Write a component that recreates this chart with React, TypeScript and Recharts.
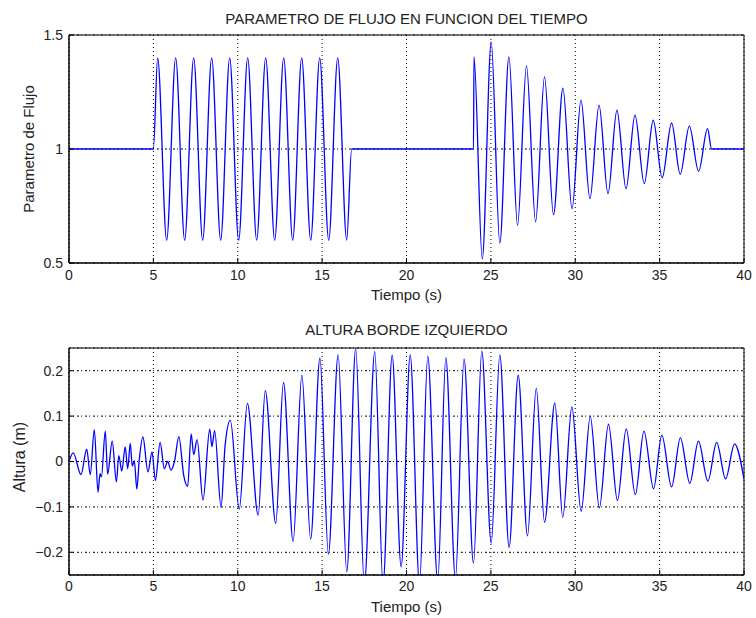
import React from 'react';
import { LineChart, Line, XAxis, YAxis, CartesianGrid, ReferenceArea } from 'recharts';

const FONT = '"Liberation Sans", Arial, Helvetica, sans-serif';
const TEXT = '#222';

// ---- Top chart: flow parameter vs time ----
const flujoT = [
  0, 5, 5.254, 5.787, 6.321, 6.854, 7.388, 7.921, 8.455, 8.988, 9.522, 10.055, 10.589, 11.122,
  11.656, 12.189, 12.723, 13.256, 13.79, 14.323, 14.857, 15.39, 15.924, 16.457, 16.75,
  23.97, 24.0, 24.49, 25.02, 25.53, 26.07, 26.58, 27.11, 27.65, 28.18, 28.71, 29.27, 29.81,
  30.34, 30.87, 31.41, 31.94, 32.47, 33.01, 33.54, 34.09, 34.62, 35.15, 35.71, 36.22, 36.76,
  37.31, 37.84, 38.08, 40,
];
const flujoV = [
  1, 1, 1.4, 0.6, 1.4, 0.6, 1.4, 0.6, 1.4, 0.6, 1.4, 0.6, 1.4, 0.6,
  1.4, 0.6, 1.4, 0.6, 1.4, 0.6, 1.4, 0.6, 1.4, 0.6, 1,
  1, 1.404, 0.518, 1.47, 0.587, 1.404, 0.665, 1.365, 0.681, 1.316, 0.712, 1.267, 0.738,
  1.214, 0.782, 1.192, 0.804, 1.17, 0.826, 1.148, 0.848, 1.126, 0.874, 1.114, 0.889, 1.1,
  0.902, 1.089, 1, 1,
];

// ---- Bottom chart: left-edge height vs time ----
const alturaT = [
  0, 0.25, 0.71, 1.05, 1.26, 1.5, 1.72, 1.84, 1.92, 2.15, 2.29, 2.56, 2.81, 2.95, 3.13, 3.33,
  3.48, 3.63, 3.75, 3.87, 4.02, 4.15, 4.38, 4.68, 4.92, 5.12, 5.4, 5.65, 5.85, 6.04, 6.25,
  6.51, 6.8, 7.03, 7.24, 7.39, 7.59, 7.94, 8.34, 8.47, 8.63, 9.01, 9.25, 9.56, 10.09, 10.57,
  11.21, 11.63, 12.25, 12.71, 13.28, 13.8, 14.32, 14.87, 15.37, 15.95, 16.46, 16.99, 17.5,
  18.12, 18.61, 19.15, 19.68, 20.22, 20.77, 21.26, 21.85, 22.33, 22.9, 23.41, 23.97, 24.46,
  25.02, 25.53, 26.08, 26.62, 27.17, 27.69, 28.18, 28.79, 29.26, 29.8, 30.35, 30.89, 31.43,
  31.97, 32.5, 33.02, 33.56, 34.07, 34.64, 35.13, 35.71, 36.23, 36.79, 37.3, 37.86, 38.38,
  38.91, 39.44, 40,
];
const alturaV = [
  0, 0.019, -0.029, 0.027, -0.029, 0.07, -0.068, -0.027, -0.034, 0.067, -0.028, 0.045, -0.045,
  0.013, -0.021, 0.032, -0.016, 0.04, -0.01, 0.002, -0.061, -0.002, 0.054, -0.023, 0.021,
  -0.042, 0.042, -0.016, 0.0, -0.019, 0.0, 0.055, -0.031, -0.055, 0.061, 0.015, 0.048, -0.085,
  0.071, 0.033, 0.068, -0.101, 0.035, 0.091, -0.105, 0.128, -0.118, 0.156, -0.136, 0.174,
  -0.176, 0.19, -0.171, 0.228, -0.204, 0.235, -0.243, 0.249, -0.27, 0.242, -0.27, 0.234,
  -0.232, 0.235, -0.27, 0.232, -0.265, 0.229, -0.258, 0.226, -0.224, 0.243, -0.18, 0.235,
  -0.189, 0.19, -0.164, 0.161, -0.134, 0.129, -0.123, 0.12, -0.11, 0.099, -0.102, 0.082,
  -0.086, 0.072, -0.073, 0.067, -0.06, 0.058, -0.056, 0.052, -0.048, 0.045, -0.043, 0.042,
  -0.038, 0.039, -0.039,
];

// ---- Ticks & labels ----
const timeTicks = [0, 5, 10, 15, 20, 25, 30, 35, 40];
const flujoTicks = [0.5, 1, 1.5];
const alturaTicks = [-0.2, -0.1, 0, 0.1, 0.2];
const titleTop = 'PARAMETRO DE FLUJO EN FUNCION DEL TIEMPO';
const titleBottom = 'ALTURA BORDE IZQUIERDO';
const xLabel = 'Tiempo (s)';
const yLabelTop = 'Parametro de Flujo';
const yLabelBottom = 'Altura (m)';

const flujoData = flujoT.map((t, i) => ({ t, v: flujoV[i] }));
const alturaData = alturaT.map((t, i) => ({ t, v: alturaV[i] }));

const tickStyle = { fontSize: 14, fill: TEXT, fontFamily: FONT };
const fmtY = (v: number) => (v < 0 ? '\u2212' + String(Math.abs(v)) : String(v));

function RotLabel({ text, cx, cy, size }: { text: string; cx: number; cy: number; size: number }) {
  return (
    <div
      style={{
        position: 'absolute',
        left: cx - 100,
        top: cy - 9,
        width: 200,
        height: 18,
        lineHeight: '18px',
        textAlign: 'center',
        fontSize: size,
        color: TEXT,
        transform: 'rotate(-90deg)',
        transformOrigin: '50% 50%',
        whiteSpace: 'nowrap',
      }}
    >
      {text}
    </div>
  );
}

function HLabel({ text, top, size }: { text: string; top: number; size: number }) {
  return (
    <div
      style={{
        position: 'absolute',
        left: 69,
        width: 675,
        top,
        lineHeight: '17px',
        textAlign: 'center',
        fontSize: size,
        color: TEXT,
        whiteSpace: 'nowrap',
      }}
    >
      {text}
    </div>
  );
}

export default function App() {
  return (
    <div
      style={{
        position: 'absolute',
        left: 0,
        top: 0,
        width: 756,
        height: 618,
        background: '#fff',
        fontFamily: FONT,
        overflow: 'hidden',
      }}
    >
      <div style={{ position: 'absolute', left: 0, top: 0 }}>
        <LineChart width={756} height={310} data={flujoData} margin={{ top: 35, right: 12, bottom: 0, left: 0 }}>
          <CartesianGrid horizontal={false} stroke="#000" strokeDasharray="1 3" />
          <CartesianGrid vertical={false} stroke="#000" strokeDasharray="2 2 1 3" />
          <XAxis
            type="number"
            dataKey="t"
            domain={[0, 40]}
            ticks={timeTicks}
            height={47}
            tick={tickStyle}
            tickSize={-5}
            tickMargin={12}
            tickLine={{ stroke: '#000' }}
            axisLine={{ stroke: '#000' }}
            allowDataOverflow
          />
          <YAxis
            type="number"
            domain={[0.5, 1.5]}
            ticks={flujoTicks}
            width={69}
            tick={tickStyle}
            tickSize={-5}
            tickMargin={11}
            tickLine={{ stroke: '#000' }}
            axisLine={{ stroke: '#000' }}
            allowDataOverflow
          />
          <ReferenceArea x1={0} x2={40} y1={0.5} y2={1.5} fill="#fff" fillOpacity={0} stroke="#000" strokeWidth={1} />
          <Line type="monotone" dataKey="v" stroke="#0000ff" strokeWidth={1.3} dot={false} isAnimationActive={false} />
        </LineChart>
      </div>

      <div style={{ position: 'absolute', left: 0, top: 310 }}>
        <LineChart width={756} height={308} data={alturaData} margin={{ top: 38, right: 12, bottom: 0, left: 0 }}>
          <CartesianGrid horizontal={false} stroke="#000" strokeDasharray="1 3" />
          <CartesianGrid vertical={false} stroke="#000" strokeDasharray="2 2 1 3" />
          <XAxis
            type="number"
            dataKey="t"
            domain={[0, 40]}
            ticks={timeTicks}
            height={43}
            tick={tickStyle}
            tickSize={-5}
            tickMargin={11}
            tickLine={{ stroke: '#000' }}
            axisLine={{ stroke: '#000' }}
            allowDataOverflow
          />
          <YAxis
            type="number"
            domain={[-0.25, 0.25]}
            ticks={alturaTicks}
            tickFormatter={fmtY}
            width={69}
            tick={tickStyle}
            tickSize={-5}
            tickMargin={11}
            tickLine={{ stroke: '#000' }}
            axisLine={{ stroke: '#000' }}
            allowDataOverflow
          />
          <ReferenceArea x1={0} x2={40} y1={-0.25} y2={0.25} fill="#fff" fillOpacity={0} stroke="#000" strokeWidth={1} />
          <Line type="monotone" dataKey="v" stroke="#0000ff" strokeWidth={1.3} dot={false} isAnimationActive={false} />
        </LineChart>
      </div>

      <HLabel text={titleTop} top={10} size={15} />
      <HLabel text={xLabel} top={286} size={15} />
      <HLabel text={titleBottom} top={321} size={15} />
      <HLabel text={xLabel} top={598} size={15} />
      <RotLabel text={yLabelTop} cx={29} cy={149} size={15} />
      <RotLabel text={yLabelBottom} cx={20} cy={457} size={16} />
    </div>
  );
}
